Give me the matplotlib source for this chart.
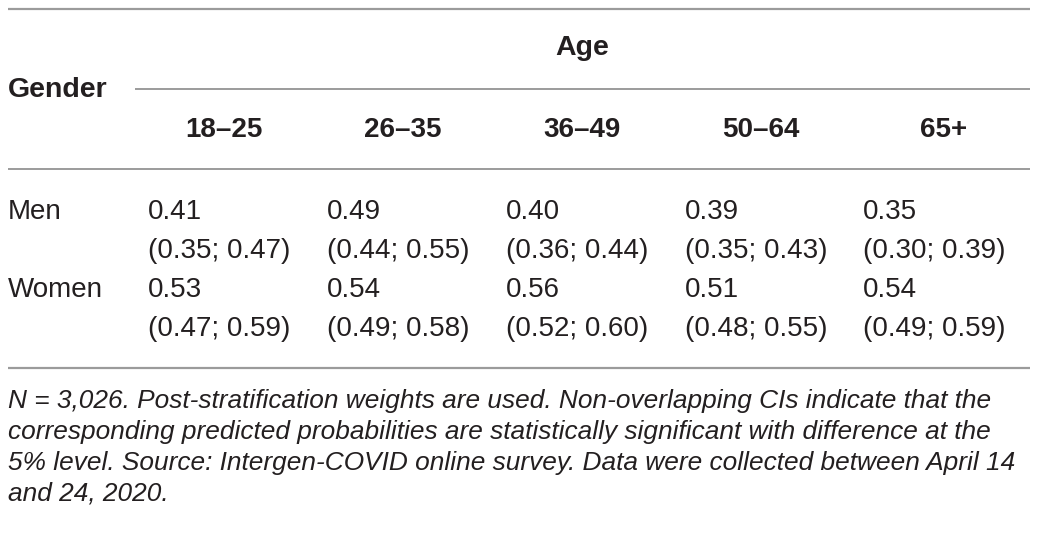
import matplotlib.pyplot as plt

# ---------- data ----------
age_groups = ["18–25", "26–35", "36–49", "50–64", "65+"]
genders = ["Men", "Women"]
men_prob = ["0.41", "0.49", "0.40", "0.39", "0.35"]
men_ci = ["(0.35; 0.47)", "(0.44; 0.55)", "(0.36; 0.44)", "(0.35; 0.43)", "(0.30; 0.39)"]
women_prob = ["0.53", "0.54", "0.56", "0.51", "0.54"]
women_ci = ["(0.47; 0.59)", "(0.49; 0.58)", "(0.52; 0.60)", "(0.48; 0.55)", "(0.49; 0.59)"]
footnote = [
    "N = 3,026. Post-stratification weights are used. Non-overlapping CIs indicate that the",
    "corresponding predicted probabilities are statistically significant with difference at the",
    "5% level. Source: Intergen-COVID online survey. Data were collected between April 14",
    "and 24, 2020.",
]

# ---------- layout (pixels) ----------
W, H = 1039, 534
FONT = "Liberation Sans"
FS = 20
TXT = "#231f20"
RULE = "#9b9b9b"
col_left = [148, 327, 506, 685, 863]
col_head_x = [224, 403, 582, 761, 944]

fig = plt.figure(figsize=(W / 100, H / 100), dpi=100)
ax = fig.add_axes([0, 0, 1, 1])
ax.set_xlim(0, W)
ax.set_ylim(H, 0)
ax.axis("off")

# rules
ax.hlines(9, 8, 1030, color=RULE, lw=1.6)
ax.hlines(89, 135, 1030, color=RULE, lw=1.4)
ax.hlines(169, 8, 1030, color=RULE, lw=1.4)
ax.hlines(368, 8, 1030, color=RULE, lw=1.6)

# header
ax.text(582, 48, "Age", ha="center", va="center", fontsize=FS + 0.5,
        fontweight="bold", family=FONT, color=TXT)
ax.text(8, 90, "Gender", ha="left", va="center", fontsize=FS + 0.5,
        fontweight="bold", family=FONT, color=TXT)
for x, lab in zip(col_head_x, age_groups):
    ax.text(x, 130, lab, ha="center", va="center", fontsize=FS,
            fontweight="bold", family=FONT, color=TXT)

# body
rows = [(men_prob, men_ci), (women_prob, women_ci)]
row_y = [212, 290]
for g, (probs, cis), y in zip(genders, rows, row_y):
    ax.text(8, y, g, ha="left", va="center", fontsize=FS, family=FONT, color=TXT)
    for x, p, ci in zip(col_left, probs, cis):
        ax.text(x, y, p, ha="left", va="center", fontsize=FS, family=FONT, color=TXT)
        ax.text(x, y + 39, ci, ha="left", va="center", fontsize=FS, family=FONT, color=TXT)

# footnote
for i, line in enumerate(footnote):
    ax.text(8, 401 + i * 31, line, ha="left", va="center", fontsize=18.9,
            style="italic", family=FONT, color=TXT)

fig.savefig("out.png", dpi=100)
